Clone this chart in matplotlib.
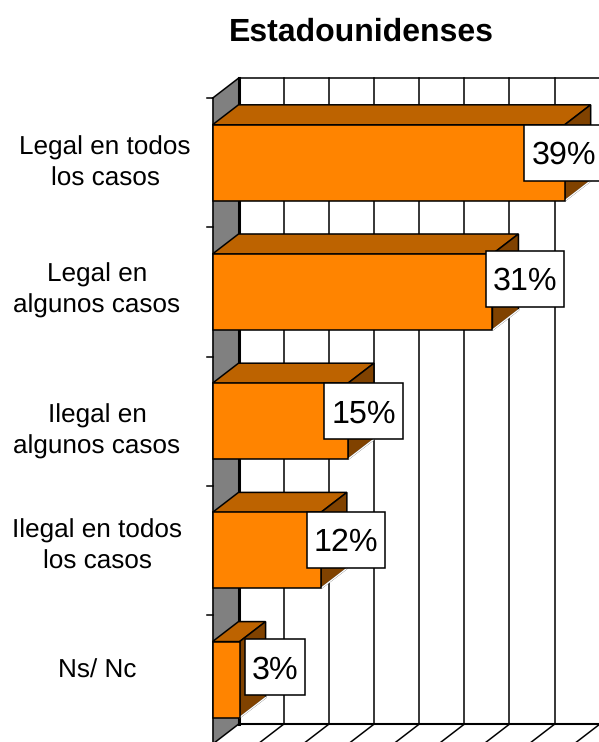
import matplotlib
matplotlib.use('Agg')
import matplotlib.pyplot as plt
import numpy as np

plt.rcParams['font.family'] = ['Liberation Sans', 'DejaVu Sans']
plt.rcParams['text.hinting'] = 'none'

# data
categories = ['Legal en todos\nlos casos', 'Legal en\nalgunos casos', 'Ilegal en\nalgunos casos',
              'Ilegal en todos\nlos casos', 'Ns/ Nc']
values = [39, 31, 15, 12, 3]
value_labels = ['39%', '31%', '15%', '12%', '3%']
x_ticks = [0, 5, 10, 15, 20, 25, 30, 35, 40]

# layout in pixels of the 599x742 picture
W, H = 599, 742
X0, SX = 212.5, 9.03     # pixel of 0%, pixels per 1%
Y0, SY = 162.8, 129.2    # pixel of first bar centre, pixels per category
DX = 26 / SX             # 3d depth in data units
DY = -20 / SY
HALF = 38 / SY
LW = 1.1

label_x = [105, 97, 97, 97, 97]
label_base = [186, 313, 454, 569, 678]   # baseline of last line
box_x = [564, 525.2, 363.5, 345.7, 275]
box_w = [80, 78.3, 78.4, 78, 60]
box_top = [125, 251, 383.3, 511.7, 639.3]
BOX_H = 56


def py(p):
    return (p - Y0) / SY


fig = plt.figure(figsize=(W / 100, H / 100), dpi=100)
ax = fig.add_axes([0, 0, 1, 1])
ax.set_xlim(-X0 / SX, (W - X0) / SX)
ax.set_ylim(py(H), py(0))
ax.axis('off')

top = -0.5
bottom = len(categories) - 0.5

# side wall
ax.fill([0, DX, DX, 0], [top, top + DY, bottom + DY, bottom], color='#808080', lw=0, zorder=1)
ax.plot([0, DX], [top, top + DY], color='k', lw=LW, zorder=2)
ax.plot([0, 0], [top, bottom], color='k', lw=LW, zorder=2)
ax.plot([DX, DX], [top + DY, bottom + DY], color='k', lw=2.2, zorder=2)

# back wall grid and floor
for t in x_ticks:
    ax.plot([t + DX, t + DX], [top + DY, bottom + DY], color='k', lw=LW, zorder=2)
    ax.plot([t, t + DX], [bottom, bottom + DY], color='k', lw=LW, zorder=2)
ax.plot([DX, x_ticks[-1] + DX], [top + DY, top + DY], color='k', lw=LW, zorder=2)
ax.plot([DX, x_ticks[-1] + DX], [bottom + DY, bottom + DY], color='k', lw=1.5, zorder=2)

# ticks on the left
for k in np.arange(len(categories) + 1) - 0.5:
    ax.plot([-6 / SX, 0], [k, k], color='k', lw=LW, zorder=2)

# bars
for i, v in enumerate(values):
    y1, y2 = i - HALF, i + HALF
    ax.fill([0, DX, v + DX, v], [y1, y1 + DY, y1 + DY, y1], facecolor='#BD6300', edgecolor='k',
            lw=LW, zorder=3 + i)
    ax.fill([v, v + DX, v + DX, v], [y1, y1 + DY, y2 + DY, y2], facecolor='#804200', edgecolor='k',
            lw=LW, zorder=3 + i)
    ax.plot([v, v + DX], [y2, y2 + DY], color='white', lw=LW, zorder=3 + i)
    ax.fill([0, v, v, 0], [y1, y1, y2, y2], facecolor='#FF8400', edgecolor='k', lw=LW, zorder=3 + i)

# value labels
for i, s in enumerate(value_labels):
    xc = (box_x[i] - X0) / SX
    w = box_w[i] / SX / 2
    y1, y2 = py(box_top[i]), py(box_top[i] + BOX_H)
    ax.fill([xc - w, xc + w, xc + w, xc - w], [y1, y1, y2, y2], facecolor='white', edgecolor='k',
            lw=LW, zorder=10)
    ax.text(xc, py(box_top[i] + 39), s, ha='center', va='baseline', fontsize=23.2, color='k', zorder=11)

# category labels
for i, s in enumerate(categories):
    ax.text((label_x[i] - X0) / SX, py(label_base[i]), s, ha='center', va='baseline', fontsize=18.8,
            color='k', linespacing=1.39, multialignment='center')

ax.text((361.5 - X0) / SX, py(32), 'Estadounidenses', ha='center', va='center', fontsize=23,
        fontweight='bold', color='k')

fig.savefig('out.png', dpi=100)
